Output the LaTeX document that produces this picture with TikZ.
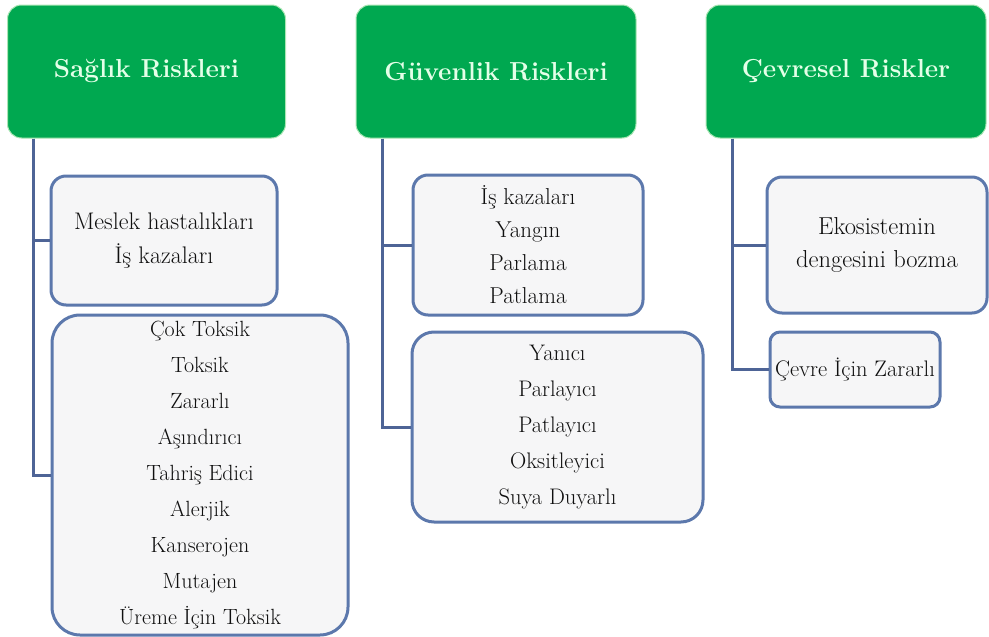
\documentclass[tikz,border=0pt]{standalone}
\usepackage{fontspec}
\definecolor{hdrgreen}{RGB}{0,168,80}
\definecolor{hdrtext}{RGB}{228,255,232}
\definecolor{hdredge}{RGB}{170,230,180}
\definecolor{boxfill}{RGB}{246,246,247}
\definecolor{boxedge}{RGB}{92,120,172}
\definecolor{connline}{RGB}{78,100,150}
\definecolor{txt}{RGB}{15,15,15}
\tikzset{
  hdr/.style={draw=hdredge, line width=1pt, fill=hdrgreen, rounded corners=14pt,
    text=hdrtext, font=\fontsize{26}{30}\selectfont\bfseries, inner sep=0pt, align=center},
  itembox/.style={draw=boxedge, line width=3pt, fill=boxfill, rounded corners=15pt,
    text=txt, inner sep=0pt, align=center},
  conn/.style={draw=connline, line width=3pt},
}
\begin{document}
\begin{tikzpicture}[x=1pt,y=-1pt]
\useasboundingbox (0,0) rectangle (989,637);
% headers
\node[hdr, minimum width=278pt, minimum height=133pt] (h1) at (146.5,71.5) {Sağlık Riskleri};
\node[hdr, minimum width=280pt, minimum height=133pt] (h2) at (496,71.5) {Güvenlik Riskleri};
\node[hdr, minimum width=280pt, minimum height=133pt] (h3) at (846,71.5) {Çevresel Riskler};
% trunk coordinates
\coordinate (v1) at (33,0);
\coordinate (v2) at (382,0);
\coordinate (v3) at (732,0);
% column 1 boxes
\node[itembox, minimum width=226pt, minimum height=129pt, font=\fontsize{24}{34}\selectfont] (b1) at (164,240.5)
  {Meslek hastalıkları\\İş kazaları};
\node[itembox, rounded corners=28pt, minimum width=296pt, minimum height=320pt, font=\fontsize{22}{36}\selectfont] (b2) at (200,475)
  {Çok Toksik\\Toksik\\Zararlı\\Aşındırıcı\\Tahriş Edici\\Alerjik\\Kanserojen\\Mutajen\\Üreme İçin Toksik};
% column 2 boxes
\node[itembox, minimum width=230pt, minimum height=140pt, font=\fontsize{23}{33}\selectfont] (b3) at (528,245)
  {İş kazaları\\Yangın\\Parlama\\Patlama};
\node[itembox, rounded corners=22pt, minimum width=291pt, minimum height=190pt, font=\fontsize{22.5}{36}\selectfont] (b4) at (557.5,427)
  {Yanıcı\\Parlayıcı\\Patlayıcı\\Oksitleyici\\Suya Duyarlı};
% column 3 boxes
\node[itembox, minimum width=220pt, minimum height=136pt, font=\fontsize{24.5}{33}\selectfont] (b5) at (877,245)
  {Ekosistemin\\dengesini bozma};
\node[itembox, rounded corners=10pt, minimum width=170pt, minimum height=75pt, font=\fontsize{22.5}{24}\selectfont] (b6) at (855,369.5)
  {Çevre İçin Zararlı};
% connectors
\draw[conn] (h1.south -| v1) |- (b1.west);
\draw[conn] (h1.south -| v1) |- (b2.west);
\draw[conn] (h2.south -| v2) |- (b3.west);
\draw[conn] (h2.south -| v2) |- (b4.west);
\draw[conn] (h3.south -| v3) |- (b5.west);
\draw[conn] (h3.south -| v3) |- (b6.west);
\end{tikzpicture}
\end{document}
